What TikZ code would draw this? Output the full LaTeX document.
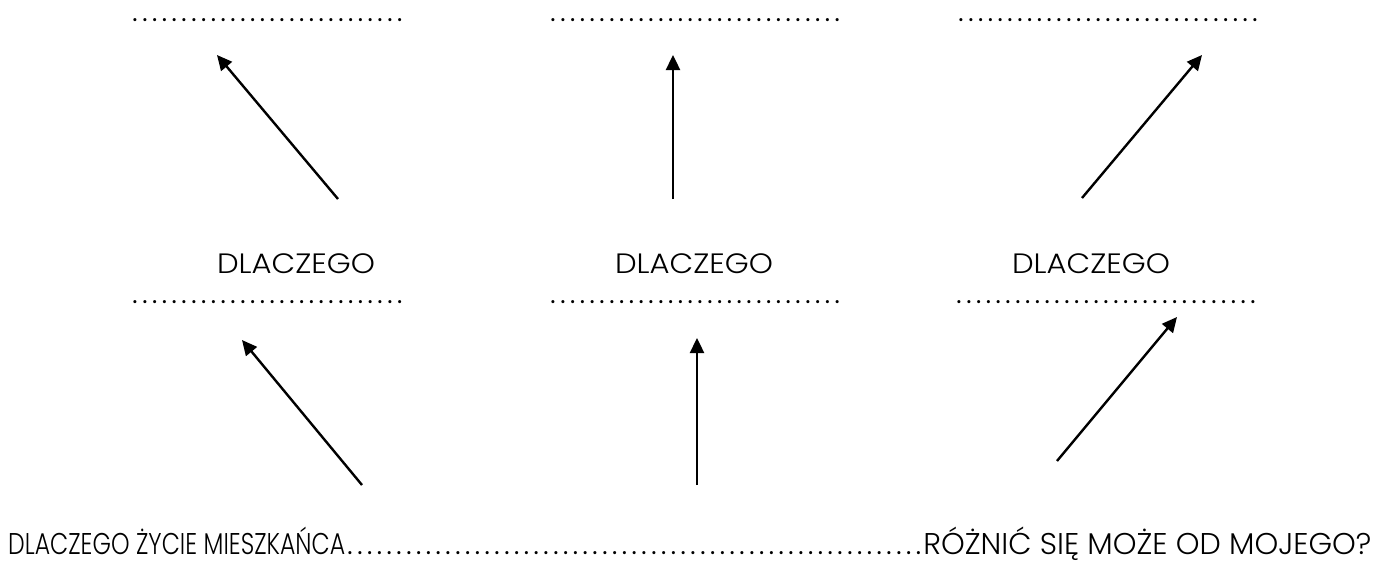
\documentclass[tikz,border=0pt]{standalone}
\usepackage{fontspec}
\setmainfont{Poppins}[UprightFont={* Light}]
\newfontfamily\dotfont{Poppins}
\usetikzlibrary{arrows.meta}
\newcommand{\fitto}[2]{\resizebox{#1}{\height}{#2}}
\newcommand{\dotrun}[1]{{\dotfont\foreach \i in {1,...,#1}{\makebox[9.8pt][c]{.}}}}
\begin{document}
\begin{tikzpicture}[x=1pt,y=-1pt,
  lbl/.style={font=\fontsize{28}{30}\selectfont, inner sep=0pt, anchor=base},
  dotrow/.style={font=\fontsize{25}{27}\selectfont, inner sep=0pt, anchor=base west},
  btm/.style={font=\fontsize{30}{32}\selectfont, inner sep=0pt, anchor=base west},
  arr/.style={line width=2.4pt, -{Triangle[length=15pt,width=14pt]}}]
\useasboundingbox[fill=white] (0,0) rectangle (1377,563);
% top dotted rows
\node[dotrow] (t1) at (130,21) {\dotrun{28}};
\node[dotrow] (t2) at (548,21) {\dotrun{30}};
\node[dotrow] (t3) at (956,21) {\dotrun{31}};
% labels
\node[lbl] (l1) at (296,273) {\fitto{158pt}{DLACZEGO}};
\node[lbl] (l2) at (694,273) {\fitto{158pt}{DLACZEGO}};
\node[lbl] (l3) at (1091,273) {\fitto{158pt}{DLACZEGO}};
% second dotted rows
\node[dotrow] (m1) at (130,303) {\dotrun{28}};
\node[dotrow] (m2) at (548,303) {\dotrun{30}};
\node[dotrow] (m3) at (954,303) {\dotrun{31}};
% bottom question
\node[btm] (q) at (8,554) {\fitto{337pt}{DLACZEGO ŻYCIE MIESZKAŃCA}{\fontsize{25}{27}\selectfont\dotrun{59}}\fitto{448pt}{RÓŻNIĆ SIĘ MOŻE OD MOJEGO?}};
% arrow end points
\coordinate (a1s) at (338,199); \coordinate (a1e) at (217,55);
\coordinate (a2s) at (673,199); \coordinate (a2e) at (673,55);
\coordinate (a3s) at (1082,198); \coordinate (a3e) at (1202,55);
\coordinate (b1s) at (362,485); \coordinate (b1e) at (242,340);
\coordinate (b2s) at (697,485); \coordinate (b2e) at (697,338);
\coordinate (b3s) at (1057,461); \coordinate (b3e) at (1177,317);
\draw[arr] (a1s) -- (a1e);
\draw[arr] (a2s) -- (a2e);
\draw[arr] (a3s) -- (a3e);
\draw[arr] (b1s) -- (b1e);
\draw[arr] (b2s) -- (b2e);
\draw[arr] (b3s) -- (b3e);
\end{tikzpicture}
\end{document}
